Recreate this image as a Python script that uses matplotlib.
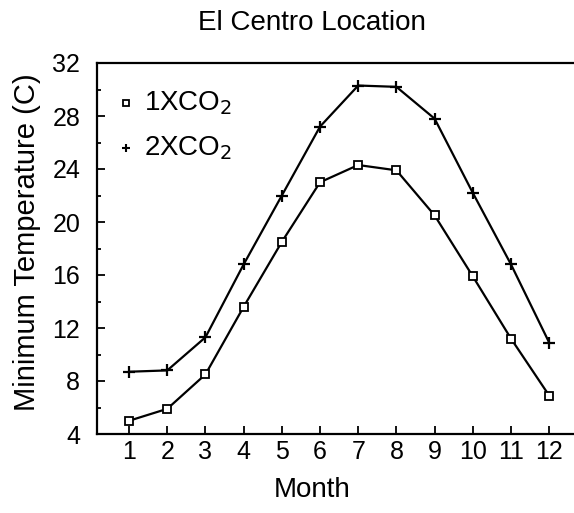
import matplotlib
matplotlib.use("Agg")
import matplotlib.pyplot as plt
from matplotlib.ticker import MultipleLocator

plt.rcParams['font.family'] = ['Liberation Sans', 'DejaVu Sans']

# monthly minimum temperature, El Centro
months = [1, 2, 3, 4, 5, 6, 7, 8, 9, 10, 11, 12]
co2_1x = [5.0, 5.9, 8.5, 13.6, 18.5, 23.0, 24.3, 23.9, 20.5, 15.9, 11.2, 6.9]
co2_2x = [8.7, 8.8, 11.3, 16.8, 22.0, 27.2, 30.3, 30.2, 27.8, 22.2, 16.8, 10.9]
yticks = [4, 8, 12, 16, 20, 24, 28, 32]

fig = plt.figure(figsize=(5.74, 5.13), dpi=100)
ax = fig.add_axes([97/574, 1-434/513, 1-97/574, (434-63)/513])

ax.plot(months, co2_1x, color='black', lw=1.6, marker='s', ms=5.5,
        mfc='white', mec='black', mew=1.3)
ax.plot(months, co2_2x, color='black', lw=1.6, marker='+', ms=8, mew=1.6)

ax.set_xlim(0.16, 12.65)
ax.set_ylim(4, 32)
ax.set_xticks(months)
ax.set_yticks(yticks)
ax.yaxis.set_minor_locator(MultipleLocator(2))
ax.tick_params(which='both', direction='in', labelsize=18, width=1.3)
ax.tick_params(which='major', length=6)
ax.tick_params(which='minor', length=3)
ax.tick_params(axis='y', pad=12)
ax.tick_params(axis='x', pad=4)
ax.spines['right'].set_visible(False)
for s in ['left', 'top', 'bottom']:
    ax.spines[s].set_linewidth(1.6)

# legend drawn by hand like the original
ax.plot([0.91], [29.0], ls='none', marker='s', ms=4.5, mfc='white', mec='black', mew=1.3)
ax.text(1.38, 29.0, '1XCO$_2$', fontsize=20, va='center')
ax.plot([0.91], [25.6], ls='none', marker='+', ms=6, mec='black', mew=1.5)
ax.text(1.38, 25.6, '2XCO$_2$', fontsize=20, va='center')

fig.text(312/574, 1-23/513, 'El Centro Location', fontsize=20, ha='center', va='center')
fig.text(312/574, 1-490/513, 'Month', fontsize=20, ha='center', va='center')
fig.text(27/574, 1-242/513, 'Minimum Temperature (C)', fontsize=21,
         ha='center', va='center', rotation=90)

fig.savefig('out.png', dpi=100)
